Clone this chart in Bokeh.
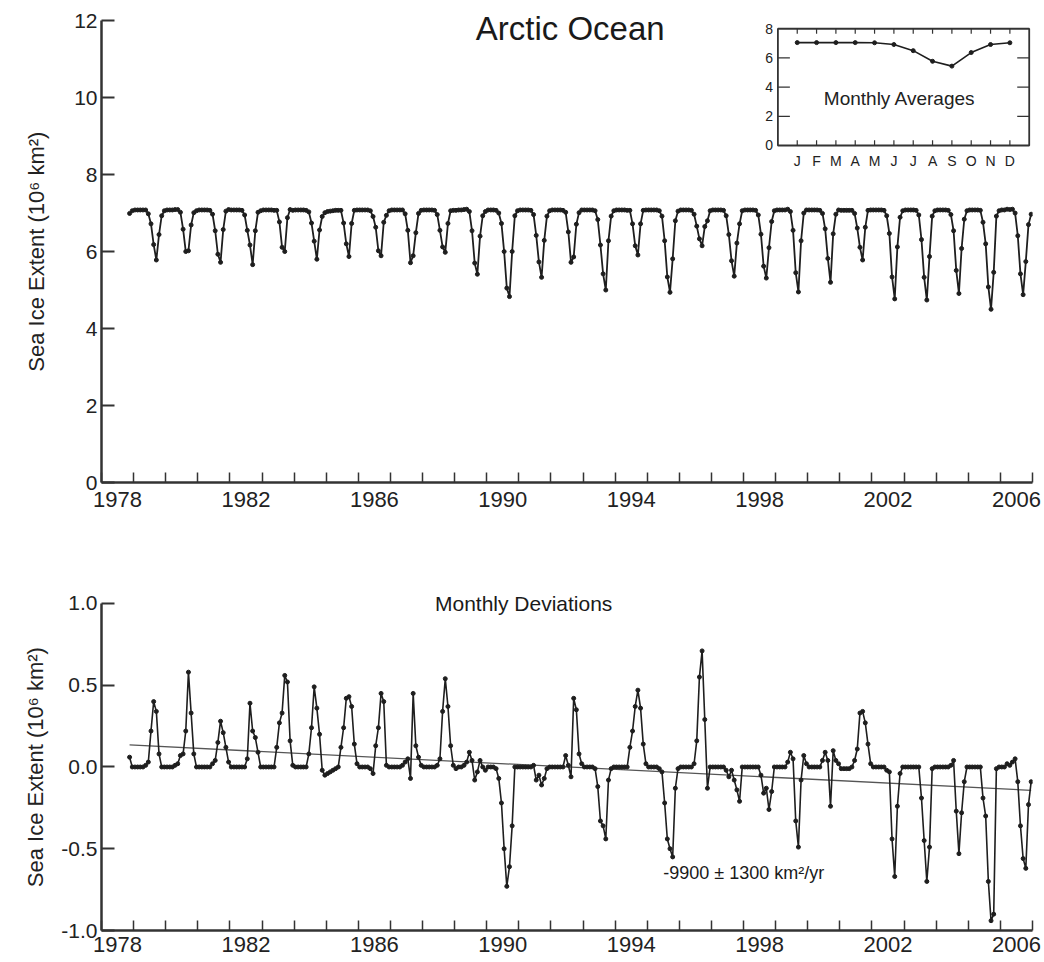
from bokeh.plotting import figure
from bokeh.layouts import column
from bokeh.models import Range1d, FixedTicker, CustomJSTickFormatter, Label
from bokeh.core.properties import value
from bokeh.embed import file_html
from bokeh.resources import INLINE

# ---------------- data ----------------
start_year = 1978
start_month = 11  # first value: November 1978, monthly to December 2006

# Arctic Ocean sea ice extent, 10^6 km^2 (one row per year)
extent = [
    6.99, 7.06,
    7.08, 7.08, 7.08, 7.08, 7.08, 6.98, 6.72, 6.18, 5.78, 6.44, 6.93, 7.06,
    7.08, 7.08, 7.08, 7.09, 7.09, 7.02, 6.58, 6.00, 6.02, 6.69, 7.01, 7.06,
    7.08, 7.08, 7.08, 7.08, 7.07, 6.97, 6.54, 5.93, 5.72, 6.57, 7.05, 7.09,
    7.08, 7.08, 7.08, 7.08, 7.07, 6.95, 6.55, 6.17, 5.66, 6.54, 7.02, 7.06,
    7.08, 7.08, 7.08, 7.08, 7.07, 7.07, 6.77, 6.11, 6.00, 6.88, 7.09, 7.07,
    7.08, 7.08, 7.08, 7.08, 7.07, 7.03, 6.74, 6.27, 5.80, 6.56, 6.91, 7.01,
    7.04, 7.05, 7.06, 7.07, 7.07, 7.07, 6.74, 6.20, 5.87, 6.73, 7.07, 7.08,
    7.08, 7.08, 7.08, 7.08, 7.06, 6.91, 6.63, 6.02, 5.89, 6.76, 6.94, 7.06,
    7.08, 7.08, 7.08, 7.08, 7.08, 6.98, 6.55, 5.71, 5.89, 6.49, 6.99, 7.07,
    7.08, 7.08, 7.08, 7.08, 7.07, 6.96, 6.55, 6.12, 5.98, 6.73, 7.06, 7.07,
    7.07, 7.08, 7.08, 7.09, 7.10, 7.04, 6.54, 5.70, 5.41, 6.40, 6.93, 7.04,
    7.08, 7.08, 7.08, 7.07, 7.00, 6.73, 6.00, 5.05, 4.83, 6.00, 6.93, 7.06,
    7.08, 7.08, 7.08, 7.08, 7.07, 6.96, 6.42, 5.73, 5.33, 6.29, 6.92, 7.06,
    7.08, 7.08, 7.08, 7.08, 7.07, 7.02, 6.51, 5.72, 5.86, 6.71, 7.01, 7.08,
    7.08, 7.08, 7.08, 7.08, 7.06, 6.83, 6.17, 5.42, 5.00, 6.28, 6.92, 7.06,
    7.08, 7.08, 7.08, 7.08, 7.07, 7.07, 6.72, 6.15, 5.91, 6.72, 7.07, 7.08,
    7.08, 7.08, 7.08, 7.08, 7.06, 6.92, 6.28, 5.34, 4.94, 5.81, 6.80, 7.05,
    7.08, 7.08, 7.08, 7.08, 7.07, 6.97, 6.66, 6.33, 6.15, 6.65, 6.80, 7.06,
    7.08, 7.08, 7.08, 7.08, 7.07, 6.93, 6.44, 5.76, 5.36, 6.22, 6.72, 7.06,
    7.08, 7.08, 7.08, 7.08, 7.07, 6.95, 6.45, 5.62, 5.31, 6.10, 6.78, 7.06,
    7.08, 7.08, 7.08, 7.08, 7.10, 7.04, 6.55, 5.45, 4.95, 6.28, 7.00, 7.08,
    7.08, 7.08, 7.08, 7.08, 7.07, 6.99, 6.59, 5.82, 5.20, 6.46, 6.97, 7.08,
    7.07, 7.07, 7.07, 7.07, 7.07, 6.99, 6.61, 6.11, 5.78, 6.63, 7.07, 7.08,
    7.08, 7.08, 7.08, 7.08, 7.07, 6.93, 6.47, 5.34, 4.77, 6.12, 6.89, 7.06,
    7.08, 7.08, 7.08, 7.08, 7.07, 6.95, 6.31, 5.33, 4.74, 5.87, 6.92, 7.06,
    7.08, 7.08, 7.08, 7.08, 7.07, 6.96, 6.54, 5.51, 4.91, 6.08, 6.84, 7.06,
    7.08, 7.08, 7.08, 7.08, 7.07, 6.76, 6.20, 5.08, 4.50, 5.46, 6.92, 7.06,
    7.08, 7.08, 7.10, 7.09, 7.10, 7.00, 6.41, 5.42, 4.88, 5.74, 6.70, 6.97,
]

# Monthly deviations, 10^6 km^2 (one row per year)
deviation = [
    0.06, 0.00,
    0.00, 0.00, 0.00, 0.00, 0.01, 0.03, 0.22, 0.40, 0.34, 0.08, 0.00, 0.00,
    0.00, 0.00, 0.00, 0.01, 0.02, 0.07, 0.08, 0.22, 0.58, 0.33, 0.08, 0.00,
    0.00, 0.00, 0.00, 0.00, 0.00, 0.02, 0.04, 0.15, 0.28, 0.21, 0.12, 0.03,
    0.00, 0.00, 0.00, 0.00, 0.00, 0.00, 0.05, 0.39, 0.22, 0.18, 0.09, 0.00,
    0.00, 0.00, 0.00, 0.00, 0.00, 0.12, 0.27, 0.33, 0.56, 0.52, 0.16, 0.01,
    0.00, 0.00, 0.00, 0.00, 0.00, 0.08, 0.24, 0.49, 0.36, 0.20, -0.02, -0.05,
    -0.04, -0.03, -0.02, -0.01, 0.00, 0.12, 0.24, 0.42, 0.43, 0.37, 0.14, 0.02,
    0.00, 0.00, 0.00, 0.00, -0.01, -0.04, 0.13, 0.24, 0.45, 0.40, 0.01, 0.00,
    0.00, 0.00, 0.00, 0.00, 0.01, 0.03, 0.05, -0.07, 0.45, 0.13, 0.06, 0.01,
    0.00, 0.00, 0.00, 0.00, 0.00, 0.01, 0.05, 0.34, 0.54, 0.37, 0.13, 0.01,
    -0.01, 0.00, 0.00, 0.01, 0.03, 0.09, 0.04, -0.08, -0.03, 0.04, 0.00, -0.02,
    0.00, 0.00, 0.00, -0.01, -0.07, -0.22, -0.50, -0.73, -0.61, -0.36, 0.00, 0.00,
    0.00, 0.00, 0.00, 0.00, 0.00, 0.01, -0.08, -0.05, -0.11, -0.07, -0.01, 0.00,
    0.00, 0.00, 0.00, 0.00, 0.00, 0.07, 0.01, -0.06, 0.42, 0.35, 0.08, 0.02,
    0.00, 0.00, 0.00, 0.00, -0.01, -0.12, -0.33, -0.36, -0.44, -0.08, -0.01, 0.00,
    0.00, 0.00, 0.00, 0.00, 0.00, 0.12, 0.22, 0.37, 0.47, 0.36, 0.14, 0.02,
    0.00, 0.00, 0.00, 0.00, -0.01, -0.03, -0.22, -0.44, -0.50, -0.55, -0.13, -0.01,
    0.00, 0.00, 0.00, 0.00, 0.00, 0.02, 0.16, 0.55, 0.71, 0.29, -0.13, 0.00,
    0.00, 0.00, 0.00, 0.00, 0.00, -0.02, -0.06, -0.02, -0.08, -0.14, -0.21, 0.00,
    0.00, 0.00, 0.00, 0.00, 0.00, 0.00, -0.05, -0.16, -0.13, -0.26, -0.15, 0.00,
    0.00, 0.00, 0.00, 0.00, 0.03, 0.09, 0.05, -0.33, -0.49, -0.08, 0.07, 0.02,
    0.00, 0.00, 0.00, 0.00, 0.00, 0.04, 0.09, 0.04, -0.24, 0.10, 0.04, 0.02,
    -0.01, -0.01, -0.01, -0.01, 0.00, 0.04, 0.11, 0.33, 0.34, 0.27, 0.14, 0.02,
    0.00, 0.00, 0.00, 0.00, 0.00, -0.02, -0.03, -0.44, -0.67, -0.24, -0.04, 0.00,
    0.00, 0.00, 0.00, 0.00, 0.00, 0.00, -0.19, -0.45, -0.70, -0.49, -0.01, 0.00,
    0.00, 0.00, 0.00, 0.00, 0.00, 0.01, 0.04, -0.27, -0.53, -0.28, -0.09, 0.00,
    0.00, 0.00, 0.00, 0.00, 0.00, -0.19, -0.30, -0.70, -0.94, -0.90, -0.01, 0.00,
    0.00, 0.00, 0.02, 0.01, 0.03, 0.05, -0.09, -0.36, -0.56, -0.62, -0.23, -0.09,
]

month_labels = ["J", "F", "M", "A", "M", "J", "J", "A", "S", "O", "N", "D"]
monthly_avg = [7.05, 7.05, 7.05, 7.05, 7.04, 6.92, 6.50, 5.77, 5.44, 6.37, 6.92, 7.04]

year_labels = [1978, 1982, 1986, 1990, 1994, 1998, 2002, 2006]
year_bounds = list(range(1978, 2008))
top_yticks = [0, 2, 4, 6, 8, 10, 12]
dev_yticks = [-1.0, -0.5, 0.0, 0.5, 1.0]
inset_yticks = [0, 2, 4, 6, 8]

trend_rate = -0.0099       # 10^6 km^2 per year (-9900 km^2/yr)
trend_zero_year = 1992.54  # year at which the fitted line crosses zero
trend_text = "-9900 \u00b1 1300 km\u00b2/yr"

# ---------------- derived positions ----------------
t = [start_year + (start_month - 1 + i + 0.5) / 12.0 for i in range(len(extent))]
trend_x = [t[0], t[-1]]
trend_y = [trend_rate * (x - trend_zero_year) for x in trend_x]
months = list(range(1, 13))

FONT = "Liberation Sans"
INK = "#1e1e1e"
AXIS = "#333333"
TXT = "#222222"


def style(p, yticks, ybounds, fmt_code, label_standoff, x_standoff):
    p.outline_line_color = None
    p.xgrid.visible = False
    p.ygrid.visible = False
    p.background_fill_color = "white"
    xa = p.xaxis[0]
    xa.ticker = FixedTicker(ticks=[y + 0.5 for y in year_labels], minor_ticks=year_bounds)
    xa.formatter = CustomJSTickFormatter(code="return String(Math.floor(tick));")
    xa.major_tick_in = 0
    xa.major_tick_out = 0
    xa.minor_tick_in = 10
    xa.minor_tick_out = 0
    xa.minor_tick_line_color = AXIS
    xa.minor_tick_line_width = 1.5
    xa.axis_line_color = AXIS
    xa.axis_line_width = 2.5
    xa.major_label_text_font = FONT
    xa.major_label_text_font_size = "22px"
    xa.major_label_text_color = TXT
    xa.major_label_standoff = x_standoff
    ya = p.yaxis[0]
    ya.bounds = ybounds
    ya.ticker = FixedTicker(ticks=yticks)
    ya.formatter = CustomJSTickFormatter(code=fmt_code)
    ya.major_tick_in = 13
    ya.major_tick_out = 0
    ya.minor_tick_in = 0
    ya.minor_tick_out = 0
    ya.major_tick_line_color = AXIS
    ya.major_tick_line_width = 2
    ya.axis_line_color = AXIS
    ya.axis_line_width = 2.5
    ya.major_label_text_font = FONT
    ya.major_label_text_font_size = "21px"
    ya.major_label_text_color = TXT
    ya.major_label_standoff = 4
    ya.axis_label = "Sea  Ice  Extent  (10\u2076 km\u00b2)"
    ya.axis_label_text_font = FONT
    ya.axis_label_text_font_size = "22px"
    ya.axis_label_text_font_style = "normal"
    ya.axis_label_text_color = TXT
    ya.axis_label_standoff = label_standoff


# ---------------- top panel ----------------
p1 = figure(width=1044, height=560, x_range=Range1d(1978, 2007), y_range=Range1d(0, 12.47),
            output_backend="svg", toolbar_location=None,
            min_border_left=101, min_border_right=12, min_border_top=2, min_border_bottom=78)
style(p1, top_yticks, (0, 12), "return String(Math.round(tick));", 22, 9)

p1.line(t, extent, line_color=INK, line_width=1.8)
p1.scatter(t, extent, size=4, color=INK)

p1.add_layout(Label(x=1992.6, y=11.79, text="Arctic Ocean", text_align="center",
                    text_baseline="middle", text_font=FONT, text_font_size="33px",
                    text_color="#1a1a1a"))

# inset: monthly averages, on its own ranges inside the top panel
p1.extra_x_ranges = {"ix": Range1d(-34.99, 13.17)}
p1.extra_y_ranges = {"iy": Range1d(-23.10, 9.80)}
IK = dict(x_range_name="ix", y_range_name="iy")
p1.quad(left=[0], right=[13], bottom=[0], top=[8], fill_color="white",
        line_color=AXIS, line_width=1.8, **IK)
p1.segment(x0=months, y0=[0] * 12, x1=months, y1=[0.35] * 12, line_color=AXIS, line_width=1.2, **IK)
p1.segment(x0=months, y0=[8] * 12, x1=months, y1=[7.65] * 12, line_color=AXIS, line_width=1.2, **IK)
mid = inset_yticks[1:-1]
p1.segment(x0=[0] * len(mid), y0=mid, x1=[0.62] * len(mid), y1=mid, line_color=AXIS, line_width=1.2, **IK)
p1.segment(x0=[13] * len(mid), y0=mid, x1=[12.38] * len(mid), y1=mid, line_color=AXIS, line_width=1.2, **IK)
p1.text(x=[-0.25] * len(inset_yticks), y=inset_yticks, text=[str(v) for v in inset_yticks],
        text_align="right", text_baseline="middle", text_font=value(FONT),
        text_font_size="14px", text_color=TXT, **IK)
p1.text(x=months, y=[-1.08] * 12, text=month_labels, text_align="center",
        text_baseline="middle", text_font=value(FONT), text_font_size="14px",
        text_color=TXT, **IK)
p1.line(months, monthly_avg, line_color=INK, line_width=1.6, **IK)
p1.scatter(months, monthly_avg, size=4, color=INK, **IK)
p1.text(x=[6.3], y=[3.22], text=["Monthly Averages"], text_align="center",
        text_baseline="middle", text_font=value(FONT), text_font_size="19px",
        text_color=TXT, **IK)

# ---------------- bottom panel ----------------
p2 = figure(width=1044, height=402, x_range=Range1d(1978, 2007), y_range=Range1d(-1.0, 1.11),
            output_backend="svg", toolbar_location=None,
            min_border_left=101, min_border_right=12, min_border_top=25, min_border_bottom=32)
style(p2, dev_yticks, (-1.0, 1.0), "return tick.toFixed(1);", 10, 6)

p2.line(trend_x, trend_y, line_color="#555555", line_width=1.3)
p2.line(t, deviation, line_color=INK, line_width=1.6)
p2.scatter(t, deviation, size=4, color=INK)

p2.add_layout(Label(x=1991.15, y=1.0, text="Monthly Deviations", text_align="center",
                    text_baseline="middle", text_font=FONT, text_font_size="21px",
                    text_color="#1a1a1a"))
p2.add_layout(Label(x=1995.5, y=-0.65, text=trend_text, text_align="left",
                    text_baseline="middle", text_font=FONT, text_font_size="18px",
                    text_color="#1a1a1a"))

layout = column(p1, p2, spacing=0)
open("out.html", "w").write(file_html(layout, INLINE))
